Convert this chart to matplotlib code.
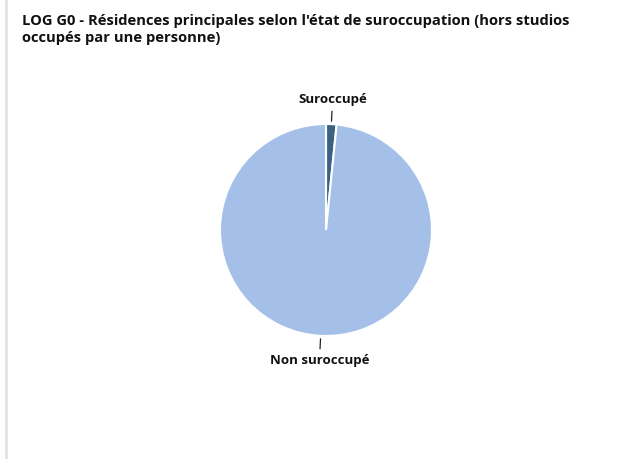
import numpy as np
import matplotlib
matplotlib.use("Agg")
import matplotlib.pyplot as plt

plt.rcParams['font.family'] = ['Open Sans', 'DejaVu Sans']
plt.rcParams['font.stretch'] = 'normal'

categories = ["Suroccupé", "Non suroccupé"]
values = [1.6, 98.4]
colors = ["#3b6282", "#a5c0e8"]

title = ("LOG G0 - Résidences principales selon l'état de suroccupation (hors studios\n"
         "occupés par une personne)")

W, H = 639, 459
fig = plt.figure(figsize=(W / 100, H / 100), dpi=100)

# grey border on the left
fig.add_artist(plt.Line2D([6 / W, 6 / W], [0, 1], color="#e2e2e2", lw=2))

fig.text(22 / W, 1 - 14 / H, title, ha="left", va="top", fontsize=10.6,
         fontweight="bold", fontstretch="normal", color="#111111", linespacing=1.3)

cx, cy, r = 326, 230, 106
ax = fig.add_axes([(cx - r) / W, 1 - (cy + r) / H, 2 * r / W, 2 * r / H])
wedges, _ = ax.pie(values, colors=colors, startangle=90, counterclock=False,
                   wedgeprops=dict(edgecolor="white", linewidth=1.5), radius=1)
ax.set_xlim(-1, 1)
ax.set_ylim(-1, 1)
ax.set_aspect("equal")

for w, lab in zip(wedges, categories):
    ang = np.deg2rad((w.theta1 + w.theta2) / 2)
    c, s = np.cos(ang), np.sin(ang)
    ax.plot([1.03 * c, 1.12 * c], [1.03 * s, 1.12 * s], color="#222222", lw=0.9,
            clip_on=False)
    ax.text(1.23 * c, 1.23 * s, lab, ha="center", va="center", fontsize=9.5,
            fontweight="bold", fontstretch="normal", color="#111111")

fig.savefig("out.png", dpi=100)
